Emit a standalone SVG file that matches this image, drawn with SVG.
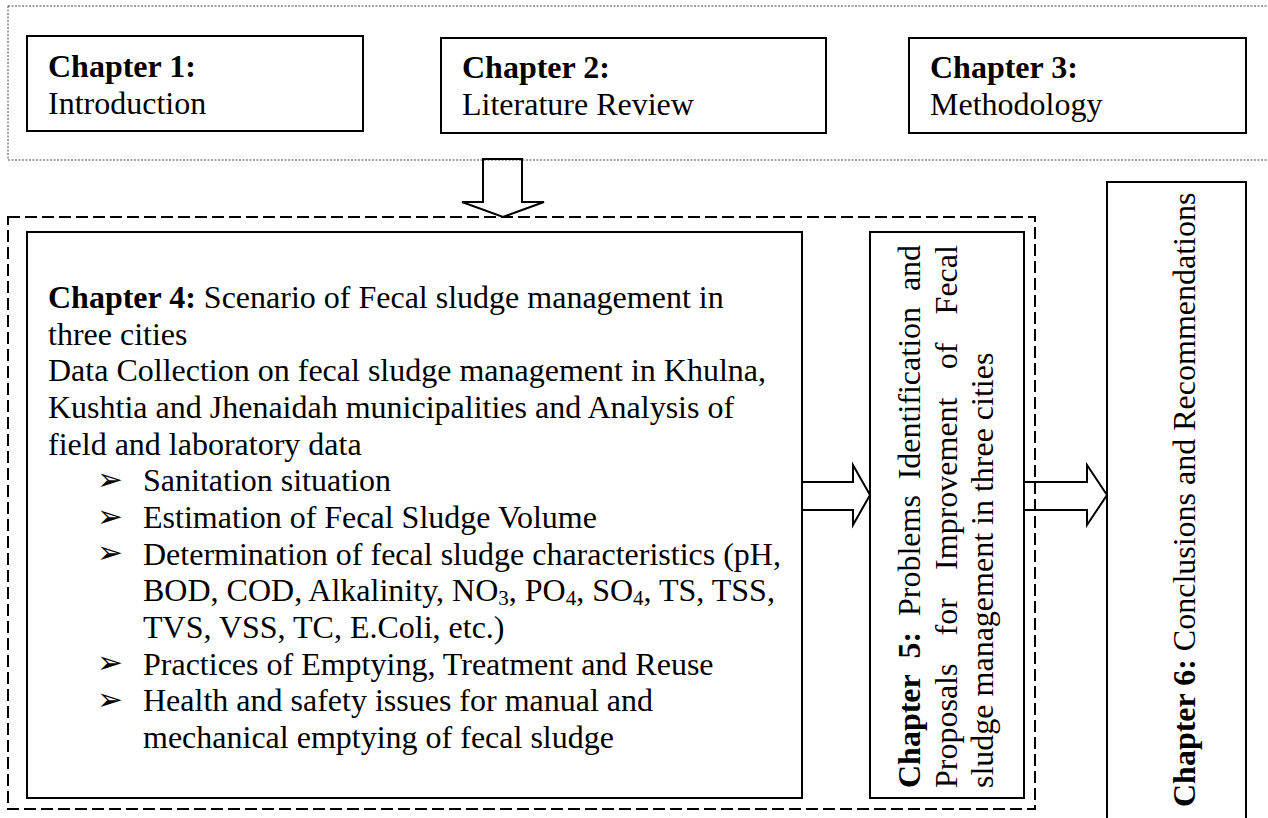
<svg xmlns="http://www.w3.org/2000/svg" width="1268" height="818" viewBox="0 0 1268 818">
<style>
  .t { font-family: 'Liberation Serif', 'Times New Roman', serif; font-size: 32px; fill: #000; }
  .b { font-weight: bold; }
  .box { fill: #fff; stroke: #000; stroke-width: 2; }
  .dotted { fill: none; stroke: #444; stroke-width: 1; stroke-dasharray: 2 1.5; }
  .dashed { fill: none; stroke: #000; stroke-width: 2; stroke-dasharray: 12 5; }
  .arrow { fill: none; stroke: #000; stroke-width: 2; stroke-linejoin: miter; }
  .bul { font-family: 'DejaVu Sans', sans-serif; font-size: 31px; fill: #000; }
  .sub { font-size: 21px; }
</style>
<rect width="1268" height="818" fill="#fff"/>

<g id="group-top">
  <rect class="dotted" x="8" y="6" width="1275" height="154"/>
</g>

<g id="chapter1">
  <rect class="box" x="27" y="36" width="336" height="95"/>
  <text class="t" x="48" y="77"><tspan class="b">Chapter 1:</tspan></text>
  <text class="t" x="48" y="113.5">Introduction</text>
</g>

<g id="chapter2">
  <rect class="box" x="441" y="38" width="385" height="95"/>
  <text class="t" x="462" y="78"><tspan class="b">Chapter 2:</tspan></text>
  <text class="t" x="462" y="114.7">Literature Review</text>
</g>

<g id="chapter3">
  <rect class="box" x="909" y="38" width="337" height="95"/>
  <text class="t" x="930" y="78"><tspan class="b">Chapter 3:</tspan></text>
  <text class="t" x="930" y="114.7">Methodology</text>
</g>

<g id="group-bottom">
  <rect class="dashed" x="8" y="217" width="1027" height="592"/>
</g>

<g id="chapter4">
  <rect class="box" x="27" y="232" width="775" height="566"/>
  <text class="t" x="48" y="308"><tspan class="b">Chapter 4:</tspan> Scenario of Fecal sludge management in</text>
  <text class="t" x="48" y="344.7">three cities</text>
  <text class="t" x="48" y="381.3">Data Collection on fecal sludge management in Khulna,</text>
  <text class="t" x="48" y="418">Kushtia and Jhenaidah municipalities and Analysis of</text>
  <text class="t" x="48" y="454.7">field and laboratory data</text>
  <text class="bul" x="97" y="490">➢</text>
  <text class="t" x="143" y="491.3">Sanitation situation</text>
  <text class="bul" x="97" y="526.7">➢</text>
  <text class="t" x="143" y="528">Estimation of Fecal Sludge Volume</text>
  <text class="bul" x="97" y="563.4">➢</text>
  <text class="t" x="143" y="564.7">Determination of fecal sludge characteristics (pH,</text>
  <text class="t" x="143" y="601.3">BOD, COD, Alkalinity, NO<tspan class="sub" dy="4">3</tspan><tspan dy="-4">, PO</tspan><tspan class="sub" dy="4">4</tspan><tspan dy="-4">, SO</tspan><tspan class="sub" dy="4">4</tspan><tspan dy="-4">, TS, TSS,</tspan></text>
  <text class="t" x="143" y="638">TVS, VSS, TC, E.Coli, etc.)</text>
  <text class="bul" x="97" y="673.4">➢</text>
  <text class="t" x="143" y="674.7">Practices of Emptying, Treatment and Reuse</text>
  <text class="bul" x="97" y="710">➢</text>
  <text class="t" x="143" y="711.3">Health and safety issues for manual and</text>
  <text class="t" x="143" y="748">mechanical emptying of fecal sludge</text>
</g>

<g id="chapter5">
  <rect class="box" x="870" y="232" width="154" height="566"/>
  <g transform="translate(920,788) rotate(-90)">
    <text class="t" y="0"><tspan x="0" class="b">Chapter</tspan><tspan x="129.5" class="b">5:</tspan><tspan x="172">Problems</tspan><tspan x="308.7">Identification</tspan><tspan x="496.9">and</tspan></text>
    <text class="t" y="36.7"><tspan x="0">Proposals</tspan><tspan x="152.6">for</tspan><tspan x="218.1">Improvement</tspan><tspan x="418.7">of</tspan><tspan x="473.6">Fecal</tspan></text>
    <text class="t" x="0" y="73.4">sludge management in three cities</text>
  </g>
</g>

<g id="chapter6">
  <rect class="box" x="1107" y="182" width="139" height="660"/>
  <text class="t" transform="translate(1195,807) rotate(-90)"><tspan class="b">Chapter 6:</tspan> Conclusions and Recommendations</text>
</g>

<g id="connectors">
  <polygon class="arrow" points="483,159 522,159 522,202 544,202 503,217 462,202 483,202"/>
  <polygon class="arrow" points="802,482 853,482 853,465 870,495 853,525 853,510 802,510"/>
  <polygon class="arrow" points="1024,482 1087,482 1087,465 1107,495 1087,525 1087,510 1024,510"/>
</g>
</svg>
